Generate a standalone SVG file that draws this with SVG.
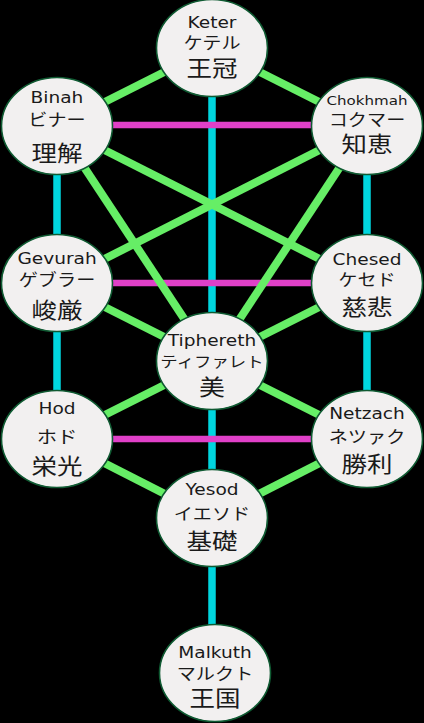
<svg xmlns="http://www.w3.org/2000/svg" width="424" height="723" viewBox="0 0 424 723">
<style>
.bg{fill:#000}
.node ellipse{fill:#f2f0f0;stroke:#0f5a32;stroke-width:1.6}
.g{stroke:#66ee66;stroke-width:8}
.c{stroke:#00d6df;stroke-width:7.5}
.m{stroke:#e040c8;stroke-width:6.5}
text{text-anchor:middle;fill:#1a1a1a}
.en{font-family:"DejaVu Sans","Liberation Sans",sans-serif;font-size:16px}
.kn{font-family:"Noto Sans CJK JP",sans-serif;font-size:16.5px}
.kj{font-family:"Noto Sans CJK JP",sans-serif;font-size:22px}
</style>
<rect class="bg" width="424" height="723"/>
<g id="connectors">
<line class="c" x1="212" y1="48" x2="212" y2="361"/>
<line class="c" x1="212" y1="361" x2="212" y2="518"/>
<line class="c" x1="212" y1="518" x2="212" y2="673"/>
<line class="c" x1="57" y1="126" x2="57" y2="283"/>
<line class="c" x1="57" y1="283" x2="57" y2="439"/>
<line class="c" x1="367" y1="126" x2="367" y2="283"/>
<line class="c" x1="367" y1="283" x2="367" y2="439"/>
<line class="m" x1="57" y1="125" x2="367" y2="125"/>
<line class="m" x1="57" y1="283" x2="367" y2="283"/>
<line class="m" x1="57" y1="439" x2="367" y2="439"/>
<line class="g" x1="212" y1="48" x2="57" y2="126"/>
<line class="g" x1="212" y1="48" x2="367" y2="126"/>
<line class="g" x1="57" y1="126" x2="367" y2="283"/>
<line class="g" x1="367" y1="126" x2="57" y2="283"/>
<line class="g" x1="57" y1="126" x2="212" y2="361"/>
<line class="g" x1="367" y1="126" x2="212" y2="361"/>
<line class="g" x1="57" y1="283" x2="212" y2="361"/>
<line class="g" x1="367" y1="283" x2="212" y2="361"/>
<line class="g" x1="57" y1="439" x2="212" y2="361"/>
<line class="g" x1="367" y1="439" x2="212" y2="361"/>
<line class="g" x1="57" y1="439" x2="212" y2="518"/>
<line class="g" x1="367" y1="439" x2="212" y2="518"/>
</g>
<g id="keter" class="node" transform="translate(212,48)">
<ellipse rx="55.5" ry="48.5"/>
<g transform="scale(1.16,1)"><text class="en" y="-20">Keter</text><text class="kn" y="1">ケテル</text><text class="kj" y="28">王冠</text></g>
</g>
<g id="binah" class="node" transform="translate(57,126)">
<ellipse rx="55.5" ry="48.5"/>
<g transform="scale(1.16,1)"><text class="en" y="-23">Binah</text><text class="kn" y="0">ビナー</text><text class="kj" y="35">理解</text></g>
</g>
<g id="chokhmah" class="node" transform="translate(367,126)">
<ellipse rx="55.5" ry="48.5"/>
<g transform="scale(1.16,1)"><text class="en" y="-21" style="font-size:13px">Chokhmah</text><text class="kn" y="0">コクマー</text><text class="kj" y="26">知恵</text></g>
</g>
<g id="gevurah" class="node" transform="translate(57,283)">
<ellipse rx="55.5" ry="48.5"/>
<g transform="scale(1.16,1)"><text class="en" y="-19">Gevurah</text><text class="kn" y="3">ゲブラー</text><text class="kj" y="35">峻厳</text></g>
</g>
<g id="chesed" class="node" transform="translate(367,283)">
<ellipse rx="55.5" ry="48.5"/>
<g transform="scale(1.16,1)"><text class="en" y="-18">Chesed</text><text class="kn" y="3">ケセド</text><text class="kj" y="32">慈悲</text></g>
</g>
<g id="tiphereth" class="node" transform="translate(212,361)">
<ellipse rx="55.5" ry="48.5"/>
<g transform="scale(1.16,1)"><text class="en" y="-15">Tiphereth</text><text class="kn" y="6" style="font-size:15px">ティファレト</text><text class="kj" y="34">美</text></g>
</g>
<g id="hod" class="node" transform="translate(57,439)">
<ellipse rx="55.5" ry="48.5"/>
<g transform="scale(1.16,1)"><text class="en" y="-25">Hod</text><text class="kn" y="4" style="font-size:17.5px">ホド</text><text class="kj" y="35">栄光</text></g>
</g>
<g id="netzach" class="node" transform="translate(367,439)">
<ellipse rx="55.5" ry="48.5"/>
<g transform="scale(1.16,1)"><text class="en" y="-20">Netzach</text><text class="kn" y="4">ネツァク</text><text class="kj" y="33">勝利</text></g>
</g>
<g id="yesod" class="node" transform="translate(212,518)">
<ellipse rx="55.5" ry="48.5"/>
<g transform="scale(1.16,1)"><text class="en" y="-23">Yesod</text><text class="kn" y="2">イエソド</text><text class="kj" y="31">基礎</text></g>
</g>
<g id="malkuth" class="node" transform="translate(215,673)">
<ellipse rx="55.5" ry="48.5"/>
<g transform="scale(1.16,1)"><text class="en" y="-15">Malkuth</text><text class="kn" y="7">マルクト</text><text class="kj" y="33">王国</text></g>
</g>
</svg>
